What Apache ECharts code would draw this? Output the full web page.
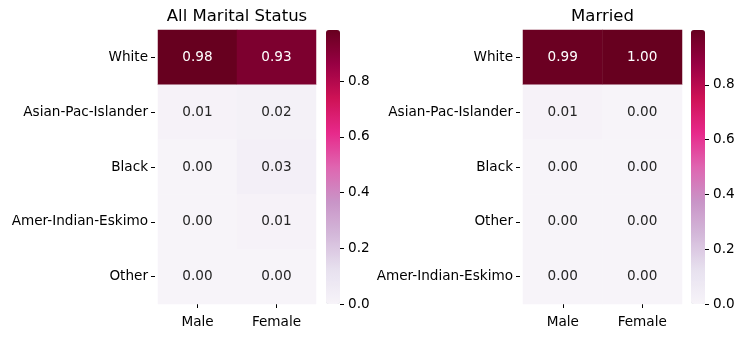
<!DOCTYPE html>
<html>
<head>
<meta charset="utf-8">
<script src="https://cdn.jsdelivr.net/npm/echarts@6/dist/echarts.min.js"></script>
<style>
  html, body { margin: 0; padding: 0; background: #fff; }
  #main { width: 747px; height: 338px; }
</style>
</head>
<body>
<div id="main"></div>
<script>
// 数据
var sexes = ['Male', 'Female'];
var racesAll = ['White', 'Asian-Pac-Islander', 'Black', 'Amer-Indian-Eskimo', 'Other'];
var allMale = [0.984, 0.01, 0.00, 0.00, 0.00];
var allFemale = [0.93, 0.02, 0.03, 0.01, 0.00];
var racesMarried = ['White', 'Asian-Pac-Islander', 'Black', 'Other', 'Amer-Indian-Eskimo'];
var marriedMale = [0.99, 0.01, 0.00, 0.00, 0.00];
var marriedFemale = [1.00, 0.00, 0.00, 0.00, 0.00];
var cbarTicks = [0, 0.2, 0.4, 0.6, 0.8];

var PuRd = ['#f7f4f9', '#e7e1ef', '#d4b9da', '#c994c7', '#df65b0', '#e7298a', '#ce1256', '#980043', '#67001f'];
var FONT = 'DejaVu Sans';
var FS = 13.6;

var chart = echarts.init(document.getElementById('main'));

function cells(male, female, vmax) {
    var out = [];
    [male, female].forEach(function (col, x) {
        col.forEach(function (v, y) {
            out.push({
                value: [x, y, v],
                label: {color: v / vmax > 0.5 ? '#ffffff' : '#262626'}
            });
        });
    });
    return out;
}

var maxAll = Math.max.apply(null, allMale.concat(allFemale));
var maxMarried = Math.max.apply(null, marriedMale.concat(marriedFemale));

var panels = [
    {left: 158, width: 158, cbLeft: 326, title: 'All Marital Status', rows: racesAll, male: allMale, female: allFemale, vmax: maxAll},
    {left: 523, width: 159, cbLeft: 691, title: 'Married', rows: racesMarried, male: marriedMale, female: marriedFemale, vmax: maxMarried}
];
var TOP = 30, H = 274;

var grid = [], xAxis = [], yAxis = [], series = [], visualMap = [], title = [];
panels.forEach(function (p, i) {
    grid.push({left: p.left, top: TOP, width: p.width, height: H});
    grid.push({left: p.cbLeft, top: TOP, width: 14, height: H});
    title.push({
        text: p.title, left: p.left + p.width / 2, top: 8, textAlign: 'center', padding: 0,
        textStyle: {fontFamily: FONT, fontSize: 16.5, fontWeight: 'normal', color: '#000'}
    });
    xAxis.push({
        type: 'category', gridIndex: 2 * i, data: sexes,
        axisLine: {show: false, onZero: false}, splitLine: {show: false},
        axisTick: {show: true, alignWithLabel: true, length: 4, lineStyle: {color: '#000'}},
        axisLabel: {fontFamily: FONT, fontSize: FS, color: '#000', margin: 11}
    });
    yAxis.push({
        type: 'category', gridIndex: 2 * i, data: p.rows, inverse: true, offset: 3,
        axisLine: {show: false, onZero: false}, splitLine: {show: false},
        axisTick: {show: true, alignWithLabel: true, length: 4, lineStyle: {color: '#000'}},
        axisLabel: {fontFamily: FONT, fontSize: FS, color: '#000', margin: 7}
    });
    // colorbar axis
    xAxis.push({type: 'value', gridIndex: 2 * i + 1, show: false, min: 0, max: 1});
    yAxis.push({
        type: 'value', gridIndex: 2 * i + 1, position: 'right', min: 0, max: p.vmax,
        splitLine: {show: false}, axisLine: {show: false, onZero: false},
        axisTick: {show: true, length: 4, customValues: cbarTicks, lineStyle: {color: '#000'}},
        axisLabel: {fontFamily: FONT, fontSize: FS, color: '#000', margin: 8, customValues: cbarTicks,
            formatter: function (v) { return v.toFixed(1); }}
    });
    series.push({
        type: 'heatmap', xAxisIndex: 2 * i, yAxisIndex: 2 * i,
        data: cells(p.male, p.female, p.vmax),
        label: {show: true, fontFamily: FONT, fontSize: FS,
            formatter: function (prm) { return prm.value[2].toFixed(2); }},
        itemStyle: {borderWidth: 0}
    });
    visualMap.push({
        type: 'continuous', seriesIndex: i, min: 0, max: p.vmax,
        left: p.cbLeft, top: TOP, itemWidth: 14, itemHeight: H, padding: 0,
        calculable: false, hoverLink: false, text: null, showLabel: false,
        inRange: {color: PuRd}
    });
});

chart.setOption({
    animation: false,
    title: title,
    grid: grid,
    xAxis: xAxis,
    yAxis: yAxis,
    visualMap: visualMap,
    series: series
});
</script>
</body>
</html>
